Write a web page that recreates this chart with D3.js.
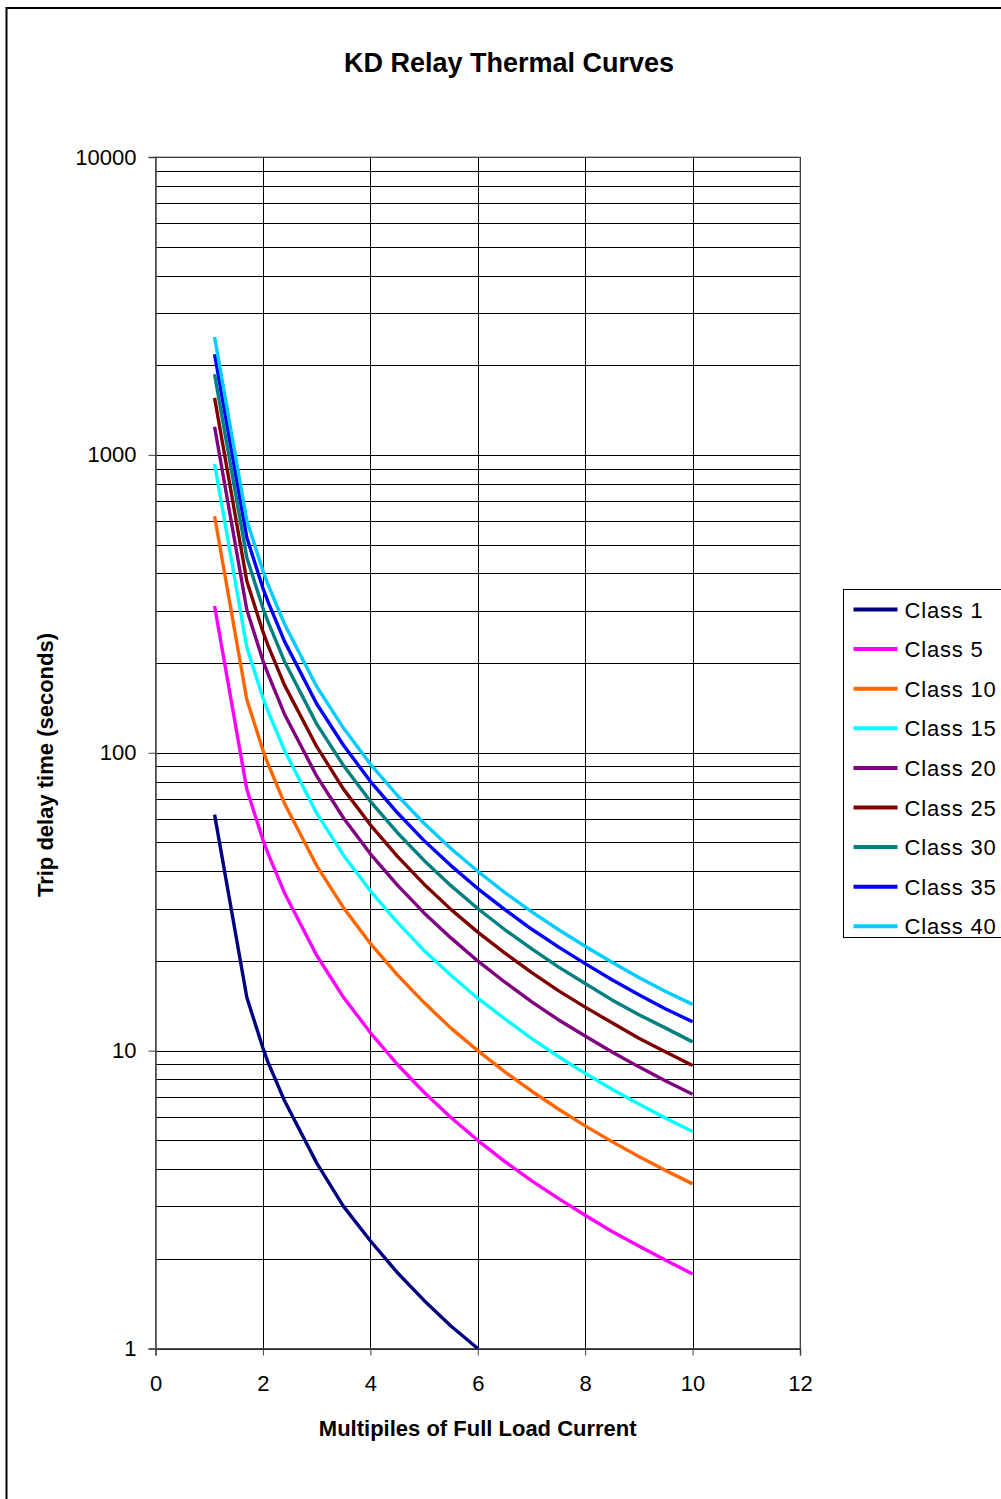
<!DOCTYPE html>
<html>
<head>
<meta charset="utf-8">
<script src="https://cdn.jsdelivr.net/npm/d3@7"></script>
<style>
  body { margin: 0; background: #fff; }
  text { font-family: Arial, "Liberation Sans", sans-serif; fill: #000; }
</style>
</head>
<body>
<div id="chart"></div>
<script>
// multiples of full load current
const multiples = [1.1, 1.7, 2, 2.1, 2.4, 3, 3.5, 4, 4.5, 5, 5.5, 6, 6.5, 7, 7.5, 8, 8.5, 9, 9.5, 10];

// trip delay time (s) per class
const class1  = [62, 15.1, 10.2, 9.1, 6.8, 4.2, 3.0, 2.3, 1.8, 1.45, 1.19, 1.0];
const class5  = [311, 75.4, 51.0, 45.7, 33.9, 20.9, 15.1, 11.5, 9.0, 7.25, 5.96, 5.0, 4.25, 3.66, 3.19, 2.80, 2.47, 2.21, 1.98, 1.78];
const class10 = [622, 151, 102, 91.3, 67.7, 41.8, 30.2, 22.9, 18.0, 14.5, 11.9, 10.0, 8.50, 7.32, 6.37, 5.59, 4.95, 4.41, 3.96, 3.57];
const class15 = [933, 226, 153, 137, 102, 62.7, 45.3, 34.4, 27.0, 21.7, 17.9, 15.0, 12.8, 11.0, 9.56, 8.39, 7.42, 6.62, 5.93, 5.35];
const class20 = [1243, 302, 204, 183, 135, 83.6, 60.4, 45.8, 36.0, 29.0, 23.9, 20.0, 17.0, 14.6, 12.7, 11.2, 9.90, 8.82, 7.91, 7.14];
const class25 = [1554, 377, 255, 228, 169, 105, 75.5, 57.3, 45.0, 36.2, 29.8, 25.0, 21.3, 18.3, 15.9, 14.0, 12.4, 11.0, 9.89, 8.92];
const class30 = [1865, 452, 306, 274, 203, 125, 90.6, 68.7, 54.0, 43.5, 35.8, 30.0, 25.5, 22.0, 19.1, 16.8, 14.8, 13.2, 11.9, 10.7];
const class35 = [2176, 528, 357, 320, 237, 146, 106, 80.2, 63.0, 50.7, 41.8, 35.0, 29.8, 25.6, 22.3, 19.6, 17.3, 15.4, 13.8, 12.5];
const class40 = [2487, 603, 408, 365, 271, 167, 121, 91.6, 72.0, 58.0, 47.7, 40.0, 34.0, 29.3, 25.5, 22.4, 19.8, 17.6, 15.8, 14.3];

const seriesNames = ["Class 1", "Class 5", "Class 10", "Class 15", "Class 20", "Class 25", "Class 30", "Class 35", "Class 40"];
const seriesValues = [class1, class5, class10, class15, class20, class25, class30, class35, class40];
const seriesColors = ["#000080", "#ff00ff", "#ff6600", "#00ffff", "#800080", "#800000", "#008080", "#0000ff", "#00ccff"];

const xTicks = [0, 2, 4, 6, 8, 10, 12];
const yTicks = [1, 10, 100, 1000, 10000];

const width = 1001, height = 1499;
const plot = { left: 155.5, right: 800, top: 157, bottom: 1348.5 };

const svg = d3.select("#chart").append("svg")
  .attr("width", width)
  .attr("height", height);

svg.append("rect").attr("width", width).attr("height", height).attr("fill", "#fff");

// outer chart frame (runs past the right and bottom edges)
svg.append("rect")
  .attr("x", 6.5).attr("y", 8)
  .attr("width", 1100).attr("height", 1600)
  .attr("fill", "none")
  .attr("stroke", "#000")
  .attr("stroke-width", 2);

const xScale = d3.scaleLinear().domain([0, 12]).range([plot.left, plot.right]);
const yScale = d3.scaleLog().domain([1, 10000]).range([plot.bottom, plot.top]);

// horizontal gridlines: every 1..9 within each decade
const minorVals = [];
for (let d = 1; d < 10000; d *= 10) {
  for (let k = 1; k <= 9; k++) minorVals.push(d * k);
}
minorVals.push(10000);

svg.append("g").selectAll("line").data(minorVals)
  .join("line")
  .attr("x1", plot.left).attr("x2", plot.right)
  .attr("y1", d => Math.round(yScale(d)) + 0.5)
  .attr("y2", d => Math.round(yScale(d)) + 0.5)
  .attr("stroke", "#000")
  .attr("stroke-width", 1);

svg.append("g").selectAll("line").data(xTicks.slice(1))
  .join("line")
  .attr("x1", d => Math.round(xScale(d)) + 0.5)
  .attr("x2", d => Math.round(xScale(d)) + 0.5)
  .attr("y1", plot.top).attr("y2", plot.bottom)
  .attr("stroke", "#000")
  .attr("stroke-width", 1);

// plot border
svg.append("rect")
  .attr("x", plot.left).attr("y", plot.top)
  .attr("width", plot.right - plot.left).attr("height", plot.bottom - plot.top)
  .attr("fill", "none")
  .attr("stroke", "#808080")
  .attr("stroke-width", 1);

// axes
const yAxis = svg.append("g")
  .attr("transform", `translate(${plot.left}, 0)`)
  .call(d3.axisLeft(yScale).tickValues(yTicks).tickFormat(d3.format("d")).tickSize(7).tickPadding(12));

const xAxis = svg.append("g")
  .attr("transform", `translate(0, ${plot.bottom})`)
  .call(d3.axisBottom(xScale).tickValues(xTicks).tickFormat(d3.format("d")).tickSize(7).tickPadding(20));

[yAxis, xAxis].forEach(ax => {
  ax.select(".domain").attr("stroke", "#404040").attr("stroke-width", 1.5);
  ax.selectAll(".tick line").attr("stroke", "#404040");
  ax.selectAll(".tick text")
    .attr("font-size", 22)
    .attr("font-family", "Arial, 'Liberation Sans', sans-serif")
    .attr("fill", "#000");
});

// curves
const line = d3.line()
  .x(d => xScale(d[0]))
  .y(d => yScale(d[1]));

svg.append("g").selectAll("path").data(seriesValues)
  .join("path")
  .attr("d", vals => line(vals.map((v, i) => [multiples[i], v])))
  .attr("fill", "none")
  .attr("stroke", (d, i) => seriesColors[i])
  .attr("stroke-width", 3.4)
  .attr("stroke-linejoin", "round");

// titles
svg.append("text")
  .attr("x", 509).attr("y", 72)
  .attr("text-anchor", "middle")
  .attr("font-size", 27)
  .attr("font-weight", "bold")
  .text("KD Relay Thermal Curves");

svg.append("text")
  .attr("x", (plot.left + plot.right) / 2).attr("y", 1436)
  .attr("text-anchor", "middle")
  .attr("font-size", 22)
  .attr("font-weight", "bold")
  .text("Multipiles of Full Load Current");

svg.append("text")
  .attr("transform", "translate(53, 765) rotate(-90)")
  .attr("text-anchor", "middle")
  .attr("font-size", 22)
  .attr("font-weight", "bold")
  .text("Trip delay time (seconds)");

// legend
const legend = svg.append("g").attr("transform", "translate(843.5, 589.5)");
legend.append("rect")
  .attr("width", 200).attr("height", 348)
  .attr("fill", "#fff")
  .attr("stroke", "#000")
  .attr("stroke-width", 1);

const items = legend.selectAll("g.item").data(seriesNames)
  .join("g")
  .classed("item", true)
  .attr("transform", (d, i) => `translate(0, ${20 + i * 39.6})`);

items.append("line")
  .attr("x1", 10).attr("x2", 54)
  .attr("stroke", (d, i) => seriesColors[i])
  .attr("stroke-width", 4);

items.append("text")
  .attr("x", 61).attr("y", 8)
  .attr("font-size", 22)
  .attr("letter-spacing", 0.8)
  .text(d => d);
</script>
</body>
</html>
